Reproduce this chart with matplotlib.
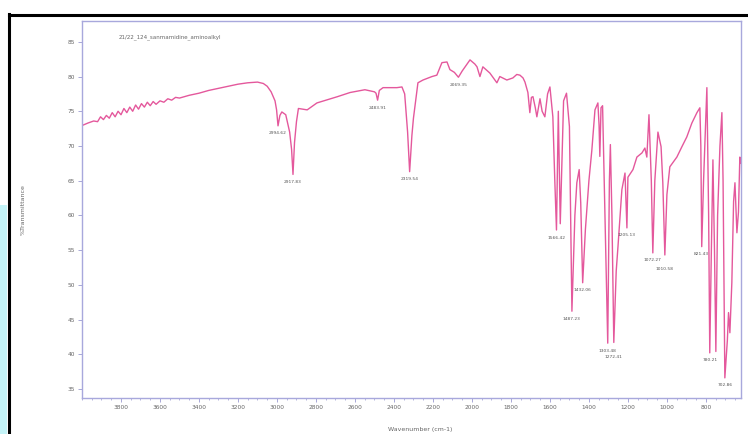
import matplotlib
matplotlib.use("Agg")
import matplotlib.pyplot as plt
from matplotlib.lines import Line2D
from matplotlib.patches import Rectangle
from matplotlib.ticker import MultipleLocator

plt.rcParams['font.family'] = ['DejaVu Sans']

sample_name = "21/22_124_sanmamidine_aminoalkyl"

# FTIR spectrum: wavenumber (cm-1) and %T
wavenumber = [
    4000, 3995, 3970, 3940, 3920, 3905, 3890, 3875, 3860, 3845, 3830, 3815,
    3800, 3785, 3770, 3755, 3740, 3725, 3710, 3695, 3680, 3665, 3650, 3635,
    3620, 3600, 3580, 3560, 3540, 3520, 3500, 3450, 3400, 3350, 3300, 3250,
    3200, 3150, 3100, 3070, 3050, 3030, 3010, 3002, 2994.62, 2985, 2975,
    2955, 2935, 2925, 2917.83, 2910, 2900, 2890, 2845, 2795, 2690, 2625,
    2549, 2500, 2492, 2483.91, 2475, 2456, 2385, 2359, 2345, 2330,
    2319.54, 2308, 2300, 2277, 2251, 2205, 2180, 2154, 2128, 2113, 2090,
    2069.35, 2050, 2010, 1985, 1974, 1959, 1944, 1908, 1872, 1857, 1821,
    1790, 1770, 1754, 1738, 1728, 1713, 1703, 1695, 1687, 1675, 1667, 1651,
    1640, 1626, 1612, 1600, 1585, 1575, 1566.42, 1557, 1547, 1530, 1515,
    1500, 1487.23, 1472, 1462, 1450, 1442, 1432.06, 1418, 1400, 1385, 1369,
    1354, 1348, 1344, 1338, 1330, 1318, 1303.48, 1295, 1290, 1282, 1272.41,
    1260, 1251, 1240, 1231, 1215, 1205.13, 1200, 1174, 1154, 1128, 1113,
    1103, 1092, 1080, 1072.27, 1062, 1046, 1030, 1021, 1010.58, 1000, 985,
    949, 923, 898, 872, 846, 831, 826, 821.43, 812, 795, 786, 780.21, 772,
    764, 756, 749, 740, 728, 718, 712, 702.86, 690, 684, 677, 667, 658, 651,
    641, 633, 626, 620,
]
transmittance = [
    73.1, 73.0, 73.3, 73.6, 73.5, 74.2, 73.8, 74.4, 74.0, 74.8, 74.2, 75.0,
    74.5, 75.4, 74.8, 75.6, 75.0, 75.9, 75.3, 76.1, 75.6, 76.3, 75.8, 76.4,
    76.0, 76.5, 76.3, 76.8, 76.6, 77.0, 76.9, 77.3, 77.6, 78.0, 78.3, 78.6,
    78.9, 79.1, 79.2, 79.0, 78.6, 77.8, 76.5, 75.2, 72.9, 74.4, 74.9,
    74.5, 72.0, 69.5, 65.9, 70.5, 73.5, 75.4, 75.2, 76.2, 77.1, 77.7,
    78.1, 77.8, 77.6, 76.6, 78.0, 78.4, 78.4, 78.5, 77.5, 72.0,
    66.3, 71.5, 74.0, 79.1, 79.5, 80.0, 80.2, 82.0, 82.1, 81.0, 80.6,
    79.9, 80.8, 82.4, 81.8, 81.4, 80.0, 81.4, 80.5, 79.1, 80.0, 79.5,
    79.8, 80.3, 80.2, 79.8, 79.2, 77.7, 74.8, 77.0, 77.1, 75.5, 74.2, 76.8,
    75.0, 74.2, 77.5, 78.5, 74.2, 65.0, 57.9, 75.0, 58.8, 76.5, 77.6,
    72.8, 46.2, 60.0, 64.7, 66.6, 61.8, 50.3, 58.0, 65.0, 69.4, 75.2,
    76.2, 73.0, 68.5, 75.5, 75.8, 60.0, 41.6, 65.0, 70.2, 60.0, 41.7,
    52.0, 55.5, 60.0, 63.7, 66.1, 58.2, 65.5, 66.6, 68.4, 69.0, 69.7,
    68.4, 74.5, 65.0, 54.6, 65.0, 72.0, 69.9, 64.7, 54.3, 63.0, 67.0,
    68.4, 69.9, 71.3, 73.3, 74.8, 75.5, 70.0, 55.5, 65.0, 78.4, 60.0, 40.2, 55.0,
    68.0, 55.0, 40.4, 60.0, 70.0, 74.8, 65.0, 36.6, 42.0, 46.0, 43.1, 50.3, 62.0, 64.7,
    57.5, 60.5, 68.4, 67.5,
]

# Labelled bands
peak_wn = [2994.62, 2917.83, 2483.91, 2319.54, 2069.35, 1566.42, 1487.23,
           1432.06, 1303.48, 1272.41, 1205.13, 1072.27, 1010.58, 821.43,
           780.21, 702.86]
peak_t = [72.9, 65.9, 76.6, 66.3, 79.9, 57.9, 46.2, 50.3, 41.6, 41.7, 58.2,
          54.6, 54.3, 55.5, 40.2, 36.6]

x_ticks = list(range(3800, 799, -200))
y_ticks = list(range(35, 86, 5))

W, H = 748, 434
fig = plt.figure(figsize=(W / 100, H / 100), dpi=100)
fig.patch.set_facecolor('white')

# Page decorations around the plot
fig.add_artist(Rectangle((0, 0), 7 / W, 1 - 205 / H, transform=fig.transFigure,
                         facecolor='#c4f3f7', edgecolor='none'))
fig.add_artist(Line2D([9 / W, 9 / W], [0, 1 - 14 / H], transform=fig.transFigure,
                      color='black', lw=2.2))
fig.add_artist(Line2D([9 / W, 1], [1 - 14.5 / H, 1 - 14.5 / H], transform=fig.transFigure,
                      color='black', lw=2.2))

ax = fig.add_axes([82 / W, 1 - 398 / H, (741 - 82) / W, (398 - 21) / H])
ax.set_facecolor('white')

line_color = '#e4589c'
ax.plot(wavenumber, transmittance, color=line_color, lw=1.0)

ax.set_xlim(4000, 620)
ax.set_ylim(33.7, 88.0)
ax.set_xticks(x_ticks)
ax.set_yticks(y_ticks)
ax.xaxis.set_minor_locator(MultipleLocator(50))
ax.tick_params(axis='both', which='major', labelsize=4.2, colors='#9a9ad0',
               labelcolor='#666666', length=3, width=0.6, pad=2)
ax.tick_params(axis='x', which='minor', colors='#9a9ad0', length=1.5, width=0.5)

for s in ax.spines.values():
    s.set_color('#a8a8dc')
    s.set_linewidth(1.0)

# Neighbouring band labels are staggered downward so they stay readable
extra_drop = {1272.41: 5, 1010.58: 5}
for wn, t in zip(peak_wn, peak_t):
    ax.annotate(f"{wn:.2f}", xy=(wn, t), xytext=(0, -4 - extra_drop.get(wn, 0)),
                textcoords='offset points', ha='center', va='top',
                fontsize=3.2, color='#555555')

ax.text(0.055, 0.965, sample_name, transform=ax.transAxes, ha='left', va='top',
        fontsize=4, color='#666666')

fig.text(23 / W, 1 - 210 / H, "%Transmittance", rotation=90, ha='center',
         va='center', fontsize=4.5, color='#666666')
fig.text(420 / W, 1 - 430 / H, "Wavenumber (cm-1)", ha='center', va='center',
         fontsize=4.5, color='#666666')

fig.savefig("out.png", dpi=100)
